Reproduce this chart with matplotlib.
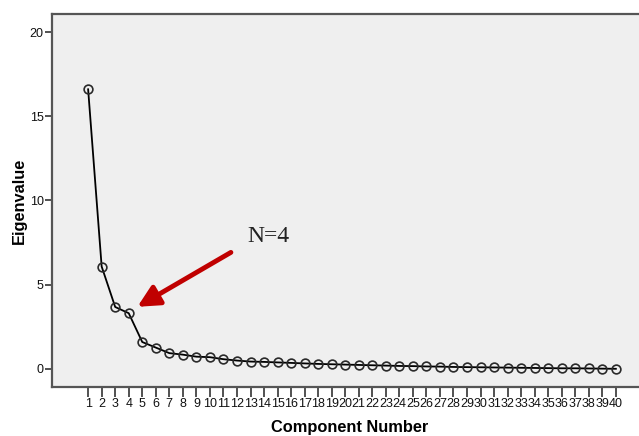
import numpy as np
from matplotlib import pyplot as plt

components = np.arange(1, 41)
eigenvalues = [16.6, 6.08, 3.68, 3.31, 1.6, 1.27, 0.94, 0.85, 0.73, 0.70,
               0.58, 0.50, 0.44, 0.42, 0.39, 0.36, 0.33, 0.30, 0.28, 0.26,
               0.24, 0.22, 0.20, 0.18, 0.17, 0.15, 0.14, 0.12, 0.11, 0.10,
               0.09, 0.08, 0.07, 0.06, 0.05, 0.04, 0.04, 0.03, 0.02, 0.01]
yticks = [0, 5, 10, 15, 20]

plt.rcParams['font.family'] = ['Liberation Sans', 'DejaVu Sans']

fig = plt.figure(figsize=(6.39, 4.36), dpi=100)
ax = fig.add_axes([52 / 639, 1 - 387 / 436, 595 / 639, 373 / 436])
ax.set_facecolor('#efefef')

ax.plot(components, eigenvalues, '-', color='black', linewidth=1.3, zorder=2)
ax.plot(components, eigenvalues, 'o', markersize=6.3, markerfacecolor='none',
        markeredgecolor='#2a2a2a', markeredgewidth=1.2, zorder=3)

ax.set_xlim(-1.67, 42.3)
ax.set_ylim(-1.07, 21.07)
ax.set_xticks(components)
ax.set_xticklabels([str(c) for c in components], fontsize=9)
ax.set_yticks(yticks)
ax.set_yticklabels([str(v) for v in yticks], fontsize=9)
ax.tick_params(axis='x', length=7, width=1.1, pad=1, color='#222222', labelcolor='#111111')
ax.tick_params(axis='y', length=5, width=1.1, pad=1, color='#222222', labelcolor='#111111')

for side in ['left', 'top', 'bottom']:
    ax.spines[side].set_color('#555555')
    ax.spines[side].set_linewidth(1.6)
ax.spines['right'].set_visible(False)

ax.set_xlabel('Component Number', fontsize=11.8, fontweight='bold', labelpad=7)
ax.set_ylabel('Eigenvalue', fontsize=11.8, fontweight='bold', labelpad=2)

ax.annotate('', xy=(4.64, 3.69), xytext=(11.55, 6.92),
            arrowprops=dict(arrowstyle='-|>,head_length=1.3,head_width=0.65',
                            color='#c00000', linewidth=3.5, shrinkA=0, shrinkB=0))
ax.text(14.3, 7.85, 'N=4', fontsize=17, family=['Liberation Serif'],
        ha='center', va='center', color='#222222')

plt.savefig('out.png', dpi=100)
